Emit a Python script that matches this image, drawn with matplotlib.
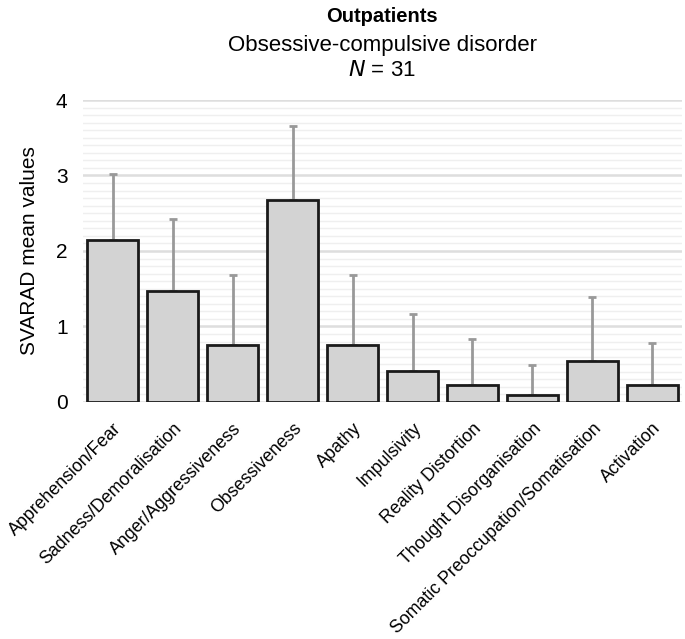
import matplotlib
matplotlib.use('Agg')
import matplotlib.pyplot as plt
import numpy as np

plt.rcParams['font.family'] = ['Liberation Sans', 'DejaVu Sans']

# SVARAD dimensions
categories = ['Apprehension/Fear', 'Sadness/Demoralisation', 'Anger/Aggressiveness',
              'Obsessiveness', 'Apathy', 'Impulsivity', 'Reality Distortion',
              'Thought Disorganisation', 'Somatic Preoccupation/Somatisation', 'Activation']
means = [2.15, 1.47, 0.75, 2.67, 0.75, 0.41, 0.22, 0.09, 0.54, 0.22]
sd = [0.87, 0.96, 0.93, 0.99, 0.93, 0.76, 0.61, 0.40, 0.85, 0.56]
yticks = [0, 1, 2, 3, 4]

fig = plt.figure(figsize=(6.85, 6.39), dpi=100)
ax = fig.add_axes([0.121, 0.371, 0.875, 0.4725])

x = np.arange(len(categories))

# light grid: minor every 0.1, major every 1
for v in np.arange(0.1, 4.0, 0.1):
    ax.axhline(v, color='#efefef', lw=1.0, zorder=0)
for v in yticks:
    ax.axhline(v, color='#dedede', lw=1.8, zorder=0)

ax.errorbar(x, means, yerr=[np.zeros(len(sd)), sd], fmt='none', ecolor='#999999',
            elinewidth=2, capsize=2.8, capthick=2, zorder=2)
ax.bar(x, means, width=0.85, color='#d3d3d3', edgecolor='#1a1a1a', linewidth=2, zorder=3)

ax.set_xlim(-0.5, len(categories) - 0.5)
ax.set_ylim(0, 4)
ax.set_yticks(yticks)
ax.tick_params(axis='y', labelsize=15, length=0, pad=11)
ax.tick_params(axis='x', length=0, pad=13)
ax.set_xticks(x)
ax.set_xticklabels(categories, rotation=45, ha='right', rotation_mode='anchor', fontsize=12.8)
for s in ax.spines.values():
    s.set_visible(False)
ax.set_ylabel('SVARAD mean values', fontsize=15, labelpad=12)

cx = 0.558
fig.text(cx, 1 - 16 / 639, 'Outpatients', ha='center', va='center', fontsize=14.5, fontweight='bold')
fig.text(cx, 1 - 45 / 639, 'Obsessive-compulsive disorder', ha='center', va='center', fontsize=16)
fig.text(cx, 1 - 71 / 639, '$\\it{N}$ = 31', ha='center', va='center', fontsize=16)

fig.savefig('out.png', dpi=100)
